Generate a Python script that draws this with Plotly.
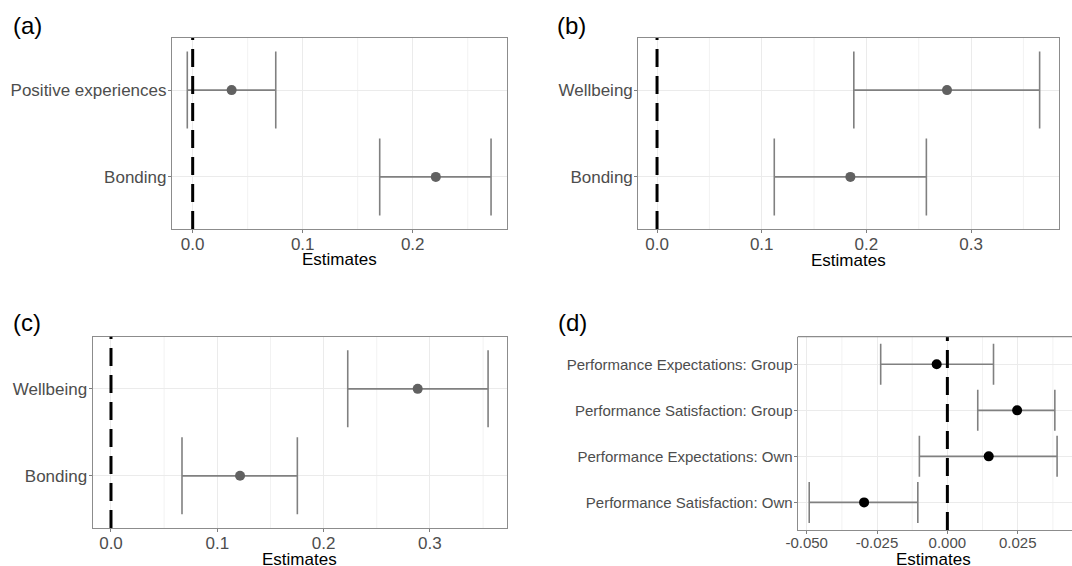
import plotly.graph_objects as go

# ---- data ----
a_labels = ["Bonding", "Positive experiences"]
a_est = [0.221, 0.0354]
a_lo = [0.170, -0.0049]
a_hi = [0.2712, 0.0755]

b_labels = ["Bonding", "Wellbeing"]
b_est = [0.1847, 0.277]
b_lo = [0.112, 0.188]
b_hi = [0.2573, 0.3655]

c_labels = ["Bonding", "Wellbeing"]
c_est = [0.1214, 0.2885]
c_lo = [0.0668, 0.2227]
c_hi = [0.1753, 0.3547]

d_labels = ["Performance Satisfaction: Own", "Performance Expectations: Own",
            "Performance Satisfaction: Group", "Performance Expectations: Group"]
d_est = [-0.0296, 0.0147, 0.0248, -0.0038]
d_lo = [-0.0491, -0.00995, 0.0108, -0.0237]
d_hi = [-0.0105, 0.039, 0.0382, 0.0164]

a_ticks = [0.0, 0.1, 0.2]
b_ticks = [0.0, 0.1, 0.2, 0.3]
c_ticks = [0.0, 0.1, 0.2, 0.3]
d_ticks = [-0.05, -0.025, 0.0, 0.025]
d_ticktext = ["-0.050", "-0.025", "0.000", "0.025"]

x_title = "Estimates"

FONT = "Liberation Sans, Arial, sans-serif"
W, H = 1072, 566

panels = [
    # name, labels, est, lo, hi, xdomain(px), ydomain(px top,bottom), xrange, ticks, ticktext,
    # dotcolor, cap, ytickfont, xtickfont, title position (px)
    ("a", a_labels, a_est, a_lo, a_hi, (172, 507), (38, 229), (-0.0188, 0.2857), a_ticks,
     ["0.0", "0.1", "0.2"], "#616161", 38.5, 17, 17, (339.3, 260)),
    ("b", b_labels, b_est, b_lo, b_hi, (638.3, 1059), (38, 229), (-0.0179, 0.384), b_ticks,
     ["0.0", "0.1", "0.2", "0.3"], "#616161", 38.5, 17, 17, (848.5, 260.5)),
    ("c", c_labels, c_est, c_lo, c_hi, (92.7, 507), (336.7, 528), (-0.0172, 0.3725), c_ticks,
     ["0.0", "0.1", "0.2", "0.3"], "#616161", 38.5, 17, 17, (299.8, 559)),
    ("d", d_labels, d_est, d_lo, d_hi, (797.7, 1072), (336.7, 530), (-0.0532, 0.0443), d_ticks,
     d_ticktext, "#000000", 20.5, 15, 15, (933.3, 559.5)),
]

fig = go.Figure()
layout = {}
shapes = []
annotations = []

for i, (name, labs, est, lo, hi, xd, yd, xr, ticks, ttext, dcol, cap, ytf, xtf, tpos) in enumerate(panels):
    n = i + 1
    xa = "x" if n == 1 else f"x{n}"
    ya = "y" if n == 1 else f"y{n}"
    xkey = "xaxis" if n == 1 else f"xaxis{n}"
    ykey = "yaxis" if n == 1 else f"yaxis{n}"
    plus = [h - e for h, e in zip(hi, est)]
    minus = [e - l for e, l in zip(est, lo)]
    fig.add_trace(go.Scatter(
        x=est, y=labs, mode="markers", xaxis=xa, yaxis=ya,
        marker=dict(size=10, color=dcol),
        error_x=dict(type="data", symmetric=False, array=plus, arrayminus=minus,
                     color="#808080", thickness=1.6, width=cap),
        showlegend=False, cliponaxis=False, hoverinfo="skip",
    ))
    # minor gridlines at midpoints
    step = ticks[1] - ticks[0]
    minor = []
    t = ticks[0] - step / 2
    while t < xr[1]:
        if t > xr[0]:
            minor.append(t)
        t += step
    for m in minor:
        shapes.append(dict(type="line", xref=xa, yref=f"{ya} domain", x0=m, x1=m, y0=0, y1=1,
                           line=dict(color="#F2F2F2", width=1), layer="below"))
    layout[xkey] = dict(
        domain=[xd[0] / W, xd[1] / W], anchor=ya, range=list(xr), automargin=False,
        tickvals=ticks, ticktext=ttext, showgrid=True, gridcolor="#EBEBEB", gridwidth=1,
        zeroline=False, showline=True, linecolor="#8C8C8C", linewidth=1.2,
        mirror=(name != "d"),
        ticks="outside", ticklen=3, tickcolor="#7F7F7F", tickwidth=1, ticklabelstandoff=-4,
        tickfont=dict(family=FONT, size=xtf, color="#4D4D4D"),
    )
    layout[ykey] = dict(
        domain=[1 - yd[1] / H, 1 - yd[0] / H], anchor=xa, type="category", automargin=False,
        categoryorder="array", categoryarray=labs, range=[-0.6, len(labs) - 0.4],
        showgrid=True, gridcolor="#EBEBEB", gridwidth=1, zeroline=False,
        showline=True, linecolor="#8C8C8C", linewidth=1.2, mirror=(name != "d"),
        ticks="outside", ticklen=3, tickcolor="#7F7F7F", tickwidth=1, ticklabelstandoff=-2,
        tickfont=dict(family=FONT, size=ytf, color="#4D4D4D"),
    )
    # dashed zero line
    shapes.append(dict(type="line", xref=xa, yref=f"{ya} domain", x0=0, x1=0, y0=0, y1=1,
                       line=dict(color="#000000", width=3, dash="18px,9px"), layer="above"))
    # axis title
    annotations.append(dict(text=x_title, xref="paper", yref="paper", x=tpos[0] / W,
                            y=1 - tpos[1] / H, xanchor="center", yanchor="middle",
                            showarrow=False, font=dict(family=FONT, size=17, color="#000000")))

# panel d top border
shapes.append(dict(type="line", xref="paper", yref="paper", x0=797.7 / W, x1=1.0,
                   y0=1 - 336.7 / H, y1=1 - 336.7 / H, line=dict(color="#8C8C8C", width=1.2)))

# panel letters
for txt, px, py in [("(a)", 11, 26), ("(b)", 555, 26), ("(c)", 11, 322), ("(d)", 556, 323)]:
    annotations.append(dict(text=txt, xref="paper", yref="paper", x=px / W, y=1 - py / H,
                            xanchor="left", yanchor="middle", showarrow=False,
                            font=dict(family=FONT, size=24, color="#000000")))

fig.update_layout(
    width=W, height=H, margin=dict(l=0, r=0, t=0, b=0, autoexpand=False),
    paper_bgcolor="white", plot_bgcolor="white",
    shapes=shapes, annotations=annotations, **layout,
)

fig.write_html("out.html", config={"displayModeBar": False},
               post_script="document.body.style.margin='0';document.body.style.overflow='hidden';")
